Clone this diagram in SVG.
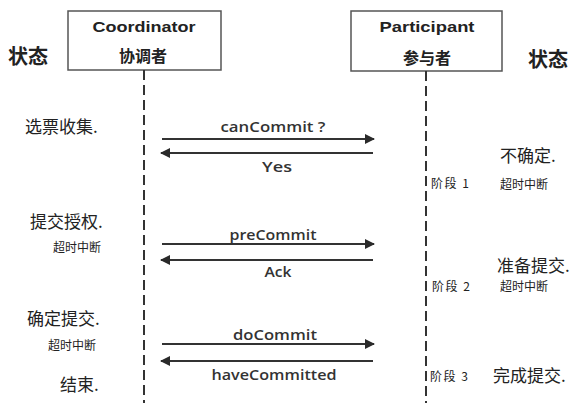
<svg xmlns="http://www.w3.org/2000/svg" width="581" height="403" viewBox="0 0 581 403">
<defs>
<marker id="ah" viewBox="0 0 10 10" refX="9" refY="5" markerWidth="5" markerHeight="5" orient="auto" markerUnits="strokeWidth">
<path d="M0,0 L10,5 L0,10 z" fill="#2a2a2a"/>
</marker>
<style>
.box{fill:#fff;stroke:#555;stroke-width:1.5}
.life{stroke:#333;stroke-width:2;stroke-dasharray:10 5;fill:none}
.msg{stroke:#333;stroke-width:2;fill:none;marker-end:url(#ah)}
.hd{font-family:"Liberation Sans","Noto Sans CJK SC",sans-serif;font-weight:bold;fill:#222;text-anchor:middle}
.zh{font-family:"Noto Sans CJK SC",sans-serif;fill:#222}
.big{font-size:17px}
.sm{font-size:12px}
.ph{font-size:12px;letter-spacing:1.5px}
.st{font-family:"Noto Sans CJK SC",sans-serif;font-weight:bold;font-size:20px;fill:#222}
.lbl{font-family:"Open Sans","Liberation Sans",sans-serif;font-size:15px;font-weight:600;fill:#333;text-anchor:middle}
</style>
</defs>
<rect width="581" height="403" fill="#fff"/>
<text class="st" x="8" y="64">状态</text>
<text class="st" x="528" y="67">状态</text>
<g id="coordinator">
<rect class="box" x="68" y="11" width="153" height="59"/>
<text class="hd" x="144" y="32" font-size="15" textLength="103" lengthAdjust="spacingAndGlyphs">Coordinator</text>
<text class="hd" x="143" y="62" font-size="16">协调者</text>
</g>
<g id="participant">
<rect class="box" x="351" y="11" width="151" height="60"/>
<text class="hd" x="427" y="32" font-size="15" textLength="95" lengthAdjust="spacingAndGlyphs">Participant</text>
<text class="hd" x="427" y="64" font-size="16">参与者</text>
</g>
<g id="connectors">
<line class="life" x1="144" y1="70" x2="144" y2="403"/>
<line class="life" x1="426" y1="71" x2="426" y2="403"/>
<line class="msg" x1="162" y1="139" x2="374" y2="139"/>
<line class="msg" x1="373" y1="153" x2="161" y2="153"/>
<line class="msg" x1="162" y1="244" x2="374" y2="244"/>
<line class="msg" x1="373" y1="260" x2="161" y2="260"/>
<line class="msg" x1="162" y1="344" x2="374" y2="344"/>
<line class="msg" x1="373" y1="361" x2="161" y2="361"/>
<text class="lbl" x="273" y="132" textLength="105" lengthAdjust="spacingAndGlyphs">canCommit ?</text>
<text class="lbl" x="277" y="172" textLength="30" lengthAdjust="spacingAndGlyphs">Yes</text>
<text class="lbl" x="273" y="240" textLength="87" lengthAdjust="spacingAndGlyphs">preCommit</text>
<text class="lbl" x="278" y="277" textLength="27" lengthAdjust="spacingAndGlyphs">Ack</text>
<text class="lbl" x="275" y="340" textLength="84" lengthAdjust="spacingAndGlyphs">doCommit</text>
<text class="lbl" x="274" y="380" textLength="125" lengthAdjust="spacingAndGlyphs">haveCommitted</text>
</g>
<g id="left-states">
<text class="zh big" x="25" y="133">选票收集.</text>
<text class="zh big" x="30" y="228">提交授权.</text>
<text class="zh sm" x="53" y="252">超时中断</text>
<text class="zh big" x="27" y="325">确定提交.</text>
<text class="zh sm" x="48" y="350">超时中断</text>
<text class="zh big" x="60" y="391">结束.</text>
</g>
<g id="right-states">
<text class="zh ph" x="431" y="188">阶段 1</text>
<text class="zh big" x="500" y="162">不确定.</text>
<text class="zh sm" x="500" y="189">超时中断</text>
<text class="zh ph" x="432" y="291">阶段 2</text>
<text class="zh big" x="497" y="272">准备提交.</text>
<text class="zh sm" x="500" y="291">超时中断</text>
<text class="zh ph" x="430" y="381">阶段 3</text>
<text class="zh big" x="493" y="382">完成提交.</text>
</g>
</svg>
